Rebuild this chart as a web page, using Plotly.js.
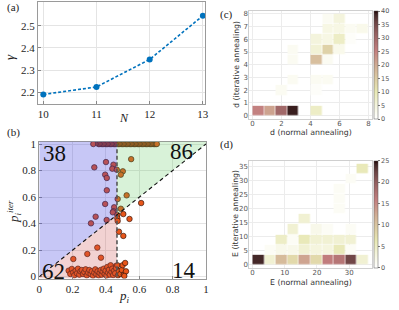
<!DOCTYPE html>
<html>
<head>
<meta charset="utf-8">
<script src="https://cdn.plot.ly/plotly-3.0.1.min.js"></script>
<style>html,body{margin:0;padding:0;background:#fff}#chart{width:399px;height:310px}</style>
</head>
<body>
<div id="chart"></div>
<script>
// ---------- panel (a) ----------
const sizesN = [10, 11, 12, 13];
const gammaVals = [2.19, 2.224, 2.348, 2.545];

// ---------- panel (b) ----------
const piNormal = [
  0.324,0.355,0.363,0.371,0.379,0.387,0.395,0.403,0.411,0.419,0.427,0.435,0.443,0.451,0.459,0.467,0.475,0.483,0.491,0.499,0.507,0.515,0.523,0.531,0.539,0.547,0.555,0.563,0.571,0.579,0.587,0.595,0.603,0.611,0.619,0.627,0.635,0.643,0.651,0.659,0.667,0.675,0.683,0.691,0.699,0.705,
  0.330,0.400,0.445,0.438,0.465,0.395,0.405,0.405,0.395,0.449,0.445,0.441,0.338,0.310,0.404,
  0.551,0.501,0.489,0.524,0.470,0.489,0.504,0.468,0.541,0.468,0.478,0.504,0.611,0.470,
  0.204,0.288,0.348,0.370,0.460,
  0.176,0.186,0.195,0.203,0.210,0.218,0.226,0.232,0.240,0.247,0.255,0.262,0.270,0.278,0.285,0.293,0.300,0.308,0.315,0.322,0.330,0.336,0.342,0.350,0.356,0.362,0.368,0.374,0.380,0.386,0.392,0.398,0.403,0.408,0.412,0.418,0.423,0.428,0.433,0.438,0.443,0.449,0.455,0.460,0.468,0.472,0.478,0.486,0.495,0.500,0.507,0.515,0.520,0.510
];
const piIter = [
  1,1,1,1,1,1,1,1,1,1,1,1,1,1,1,1,1,1,1,1,1,1,1,1,1,1,1,1,1,1,1,1,1,1,1,1,1,1,1,1,1,1,1,1,1,1,
  0.824,0.864,0.844,0.814,0.806,0.769,0.744,0.651,0.548,0.523,0.493,0.485,0.452,0.402,0.427,
  0.886,0.794,0.769,0.613,0.585,0.512,0.472,0.465,0.435,0.440,0.339,0.307,0.555,0.420,
  0.133,0.171,0.219,0.143,0.080,
  0.045,0.020,0.058,0.030,0.010,0.045,0.025,0.060,0.015,0.040,0.050,0.020,0.035,0.055,0.010,0.030,0.050,0.020,0.040,0.008,0.030,0.055,0.018,0.040,0.010,0.028,0.050,0.015,0.038,0.060,0.020,0.045,0.008,0.073,0.030,0.052,0.015,0.086,0.035,0.060,0.012,0.045,0.025,0.065,0.086,0.010,0.040,0.020,0.050,0.086,0.015,0.103,0.040,0.005
];
const regionCounts = ["38", "86", "62", "14"];
const pThreshold = 0.466;
const unitTicks = [0, 0.2, 0.4, 0.6, 0.8, 1];
const unitTickText = ["0", "0.2", "0.4", "0.6", "0.8", "1"];

// ---------- panel (c) ----------
const dBins = [0.4, 1.2, 2.0, 2.8, 3.6, 4.4, 5.2, 6.0, 6.8, 7.6];
const dCounts = [
  [25,21,30,39,0,8,0,0,0,0],
  [0,0,0,0,0,0,0,0,0,0],
  [0,0,2,0,0,1,0,0,0,0],
  [0,0,0,2,0,2,2,0,0,0],
  [0,0,0,0,0,0,0,0,0,0],
  [0,0,0,2,0,17,2,0,0,0],
  [0,0,0,2,0,6,14,3,0,0],
  [0,0,0,0,0,5,4,8,1,0],
  [0,0,0,0,0,0,4,4,2,3],
  [0,0,0,0,0,0,2,5,0,0]
];

// ---------- panel (d) ----------
const eBins = [1.8, 5.4, 9.0, 12.6, 16.2, 19.8, 23.4, 27.0, 30.6, 34.2];
const eCounts = [
  [24,4,11,8,13,8,16,17,22,4],
  [0,1,2,2,4,3,3,6,1,0],
  [0,0,5,1,6,4,4,4,4,0],
  [0,0,0,4,0,2,1,0,1,0],
  [0,0,0,0,4,0,0,0,0,0],
  [0,0,0,0,0,0,0,1,0,0],
  [0,0,0,0,0,0,0,1,0,0],
  [0,0,0,0,0,0,0,1,0,0],
  [0,0,0,0,0,0,0,0,1,0],
  [0,0,0,0,0,0,0,0,0,6]
];

const pinkR = [
  [0,'rgb(255,255,255)'],[0.05,'rgb(251,251,242)'],[0.15,'rgb(242,242,214)'],[0.254,'rgb(232,232,180)'],
  [0.4,'rgb(218,198,161)'],[0.5,'rgb(208,171,147)'],[0.635,'rgb(194,126,126)'],[0.7,'rgb(176,114,114)'],
  [0.8,'rgb(145,93,93)'],[0.9,'rgb(105,66,66)'],[0.97,'rgb(62,36,36)'],[1,'rgb(30,0,0)']
];

const W = 399, H = 310;
const px = v => v / W;
const py = v => 1 - v / H;
const blankZero = m => m.map(r => r.map(v => v === 0 ? null : v));

const serif = 'Liberation Serif, DejaVu Serif, serif';
const sans = 'DejaVu Sans, sans-serif';

const traces = [
  {
    x: sizesN, y: gammaVals, xaxis: 'x', yaxis: 'y', type: 'scatter', mode: 'lines+markers',
    line: {color: 'rgb(0,114,189)', width: 1.6, dash: '3px,2px'},
    marker: {color: 'rgb(0,114,189)', size: 6}, hoverinfo: 'none'
  },
  {
    x: piNormal, y: piIter, xaxis: 'x2', yaxis: 'y2', type: 'scatter', mode: 'markers',
    marker: {color: 'rgb(232,86,26)', size: 5.5, line: {color: 'rgb(60,25,15)', width: 0.7}},
    hoverinfo: 'none'
  },
  {
    x: dBins, y: dBins, z: blankZero(dCounts), xaxis: 'x3', yaxis: 'y3', type: 'heatmap',
    colorscale: pinkR, zmin: 0, zmax: 40, xgap: 0.6, ygap: 0.6, hoverinfo: 'none',
    colorbar: {
      x: px(374), xanchor: 'left', xref: 'paper', y: py(119), yanchor: 'bottom', yref: 'paper',
      len: (119 - 11) / H, lenmode: 'fraction', thickness: 4, thicknessmode: 'pixels',
      xpad: 0, ypad: 0, outlinewidth: 0.5, outlinecolor: '#555',
      tickvals: [0,5,10,15,20,25,30,35,40], ticks: 'outside', ticklen: 2, tickcolor: '#777',
      tickfont: {family: sans, size: 6.5, color: '#555'}
    }
  },
  {
    x: eBins, y: eBins, z: blankZero(eCounts), xaxis: 'x4', yaxis: 'y4', type: 'heatmap',
    colorscale: pinkR, zmin: 0, zmax: 25, xgap: 0.6, ygap: 0.6, hoverinfo: 'none',
    colorbar: {
      x: px(374), xanchor: 'left', xref: 'paper', y: py(267.7), yanchor: 'bottom', yref: 'paper',
      len: (267.7 - 161) / H, lenmode: 'fraction', thickness: 4, thicknessmode: 'pixels',
      xpad: 0, ypad: 0, outlinewidth: 0.5, outlinecolor: '#555',
      tickvals: [0,5,10,15,20,25], ticks: 'outside', ticklen: 2, tickcolor: '#777',
      tickfont: {family: sans, size: 6.5, color: '#555'}
    }
  }
];

const serifAxis = {
  showgrid: true, gridcolor: '#e4e4e4', gridwidth: 1, zeroline: false,
  showline: true, linecolor: '#9a9a9a', linewidth: 1, mirror: true,
  ticks: 'inside', ticklen: 3, tickcolor: '#888',
  tickfont: {family: serif, size: 11, color: '#262626'}
};
const sansAxis = {
  showgrid: true, gridcolor: '#ececec', gridwidth: 1, zeroline: false,
  showline: true, linecolor: '#cfcfcf', linewidth: 1, mirror: true,
  ticks: '', tickfont: {family: sans, size: 7, color: '#555'}
};

function note(xp, yp, text, font, angle) {
  const a = {xref: 'paper', yref: 'paper', x: px(xp), y: py(yp), text: text, showarrow: false,
             xanchor: 'center', yanchor: 'middle', font: font};
  if (angle) a.textangle = angle;
  return a;
}
function dataNote(x, y, text) {
  return {xref: 'x2', yref: 'y2', x: x, y: y, text: text, showarrow: false,
          xanchor: 'center', yanchor: 'middle', font: {family: serif, size: 23, color: '#111'}};
}
const letterFont = {family: serif, size: 11, color: '#222'};
const titleSans = {family: sans, size: 7.8, color: '#333'};

const layout = {
  width: W, height: H, margin: {l: 0, r: 0, t: 0, b: 0},
  paper_bgcolor: '#fff', plot_bgcolor: '#fff', showlegend: false,
  xaxis: Object.assign({}, serifAxis, {domain: [px(38), px(205)], anchor: 'y', range: [9.9, 13.04], tickvals: sizesN}),
  yaxis: Object.assign({}, serifAxis, {domain: [py(104), py(2)], anchor: 'x', range: [2.147, 2.607], tickvals: [2.2, 2.3, 2.4, 2.5]}),
  xaxis2: Object.assign({}, serifAxis, {domain: [px(39.3), px(206)], anchor: 'y2', range: [0, 1], tickvals: unitTicks, ticktext: unitTickText}),
  yaxis2: Object.assign({}, serifAxis, {domain: [py(278.5), py(141.5)], anchor: 'x2', range: [-0.014, 1.019], tickvals: unitTicks, ticktext: unitTickText}),
  xaxis3: Object.assign({}, sansAxis, {domain: [px(249.3), px(371.7)], anchor: 'y3', range: [-0.22, 8.22], tickvals: [0,2,4,6,8], ticklabelstandoff: -2}),
  yaxis3: Object.assign({}, sansAxis, {domain: [py(119), py(11)], anchor: 'x3', range: [-0.26, 8.22], tickvals: [0,1,2,3,4,5,6,7,8], ticklabelstandoff: -1}),
  xaxis4: Object.assign({}, sansAxis, {domain: [px(249.3), px(371.7)], anchor: 'y4', range: [-1, 37], tickvals: [0,10,20,30], ticklabelstandoff: -2}),
  yaxis4: Object.assign({}, sansAxis, {domain: [py(267.7), py(161)], anchor: 'x4', range: [-1.1, 37], tickvals: [0,5,10,15,20,25,30,35], ticklabelstandoff: -1}),
  shapes: [
    {type: 'path', xref: 'x2', yref: 'y2', layer: 'above', line: {width: 0},
     fillcolor: 'rgba(70,70,225,0.30)',
     path: `M0,0 L${pThreshold},${pThreshold} L${pThreshold},1.019 L0,1.019 Z`},
    {type: 'path', xref: 'x2', yref: 'y2', layer: 'above', line: {width: 0},
     fillcolor: 'rgba(205,80,80,0.26)',
     path: `M0,-0.014 L0,0 L${pThreshold},${pThreshold} L${pThreshold},-0.014 Z`},
    {type: 'path', xref: 'x2', yref: 'y2', layer: 'above', line: {width: 0},
     fillcolor: 'rgba(90,200,90,0.24)',
     path: `M${pThreshold},${pThreshold} L1,1 L1,1.019 L${pThreshold},1.019 Z`},
    {type: 'line', xref: 'x2', yref: 'y2', layer: 'above', x0: pThreshold, x1: pThreshold, y0: 0, y1: 1,
     line: {color: '#555', width: 1.6, dash: '4px,2.5px'}},
    {type: 'line', xref: 'x2', yref: 'y2', layer: 'above', x0: 0, x1: 1, y0: 0, y1: 1,
     line: {color: '#111', width: 1.1, dash: '4px,3px'}}
  ],
  annotations: [
    dataNote(0.094, 0.932, regionCounts[0]),
    dataNote(0.855, 0.945, regionCounts[1]),
    dataNote(0.088, 0.038, regionCounts[2]),
    dataNote(0.865, 0.05, regionCounts[3]),
    note(13, 8, '(a)', letterFont),
    note(13, 133, '(b)', letterFont),
    note(226, 14, '(c)', letterFont),
    note(226, 144, '(d)', letterFont),
    note(10, 57, '<i>γ</i>', {family: serif, size: 13, color: '#222'}, -90),
    note(124, 118, '<i>N</i>', {family: serif, size: 12, color: '#222'}),
    note(14, 212, '<i>p</i><sub><i>i</i></sub><sup><i>iter</i></sup>', {family: serif, size: 13, color: '#222'}, -90),
    note(124, 296, '<i>p</i><sub><i>i</i></sub>', {family: serif, size: 13, color: '#222'}),
    note(310.5, 133, 'd (normal annealing)', titleSans),
    note(236, 65, 'd (iterative annealing)', titleSans, -90),
    note(310.5, 282, 'E (normal annealing)', titleSans),
    note(235, 214, 'E (iterative annealing)', titleSans, -90)
  ]
};

Plotly.newPlot('chart', traces, layout, {staticPlot: true, displayModeBar: false});
</script>
</body>
</html>
